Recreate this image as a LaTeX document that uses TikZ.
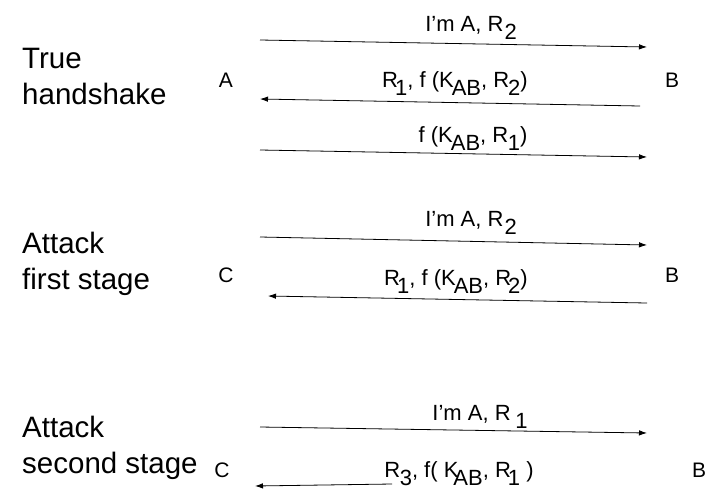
\documentclass[tikz,border=0pt]{standalone}
\usepackage{fontspec}
\setmainfont{Liberation Sans}
\usetikzlibrary{arrows.meta}
\newcommand\lowsub[2][0.5pt]{\kern-#1\raisebox{-8.5pt}{#2}}
\tikzset{
  phase/.style={anchor=base west, inner sep=0pt, font=\fontsize{29.5pt}{36pt}\selectfont, align=left},
  party/.style={anchor=base, inner sep=0pt, font=\fontsize{21pt}{25pt}\selectfont},
  msg/.style={anchor=base, inner sep=0pt, font=\fontsize{22pt}{26pt}\selectfont},
  msgarrow/.style={draw=black, line width=0.8pt, -{Latex[length=8pt,width=5.5pt]}}
}
\begin{document}
\begin{tikzpicture}[x=1pt,y=-1pt]
\useasboundingbox (0,0) rectangle (709,488);
% phase titles
\node[phase] (t1a) at (22,68) {True};
\node[phase] (t1b) at (22,104) {handshake};
\node[phase] (t2a) at (22,253) {Attack};
\node[phase] (t2b) at (22,289) {first stage};
\node[phase] (t3a) at (22,437) {Attack};
\node[phase] (t3b) at (22,473) {second stage};
% parties
\node[party] (pA) at (226,87) {A};
\node[party] (pB1) at (672,87) {B};
\node[party] (pC2) at (226,282) {C};
\node[party] (pB2) at (672,282) {B};
\node[party] (pC3) at (222,477) {C};
\node[party] (pB3) at (699,477) {B};
% message labels
\node[msg] (m1) at (471,31) {I’m A, R\lowsub[-1pt]{2}};
\node[msg] (m2) at (455,87) {R\lowsub[3pt]{1}, f (K\lowsub[2pt]{AB}, R\lowsub[1pt]{2})};
\node[msg] (m3) at (473,142) {f (K\lowsub[2pt]{AB}, R\lowsub[0.5pt]{1})};
\node[msg] (m4) at (471,226) {I’m A, R\lowsub[-1pt]{2}};
\node[msg] (m5) at (456,285) {R\lowsub[3pt]{1}, f (K\lowsub[2pt]{AB}, R\lowsub[3pt]{2})};
\node[msg] (m6) at (480,420) {I’m A, R\,\lowsub[-1pt]{1}};
\node[msg] (m7) at (459,477) {R\lowsub[0.5pt]{3}, f( K\lowsub[5pt]{AB}, R\lowsub[3pt]{1} )};
% arrow ends
\coordinate (a1s) at (260,40);  \coordinate (a1e) at (647,47);
\coordinate (a2s) at (640,106); \coordinate (a2e) at (260,99);
\coordinate (a3s) at (260,150); \coordinate (a3e) at (647,157);
\coordinate (a4s) at (260,237); \coordinate (a4e) at (647,245);
\coordinate (a5s) at (647,303); \coordinate (a5e) at (268,296);
\coordinate (a6s) at (260,427); \coordinate (a6e) at (647,433);
\coordinate (a7s) at (392,484); \coordinate (a7e) at (255,486);
\draw[msgarrow] (a1s) -- (a1e);
\draw[msgarrow] (a2s) -- (a2e);
\draw[msgarrow] (a3s) -- (a3e);
\draw[msgarrow] (a4s) -- (a4e);
\draw[msgarrow] (a5s) -- (a5e);
\draw[msgarrow] (a6s) -- (a6e);
\draw[msgarrow] (a7s) -- (a7e);
\end{tikzpicture}
\end{document}
